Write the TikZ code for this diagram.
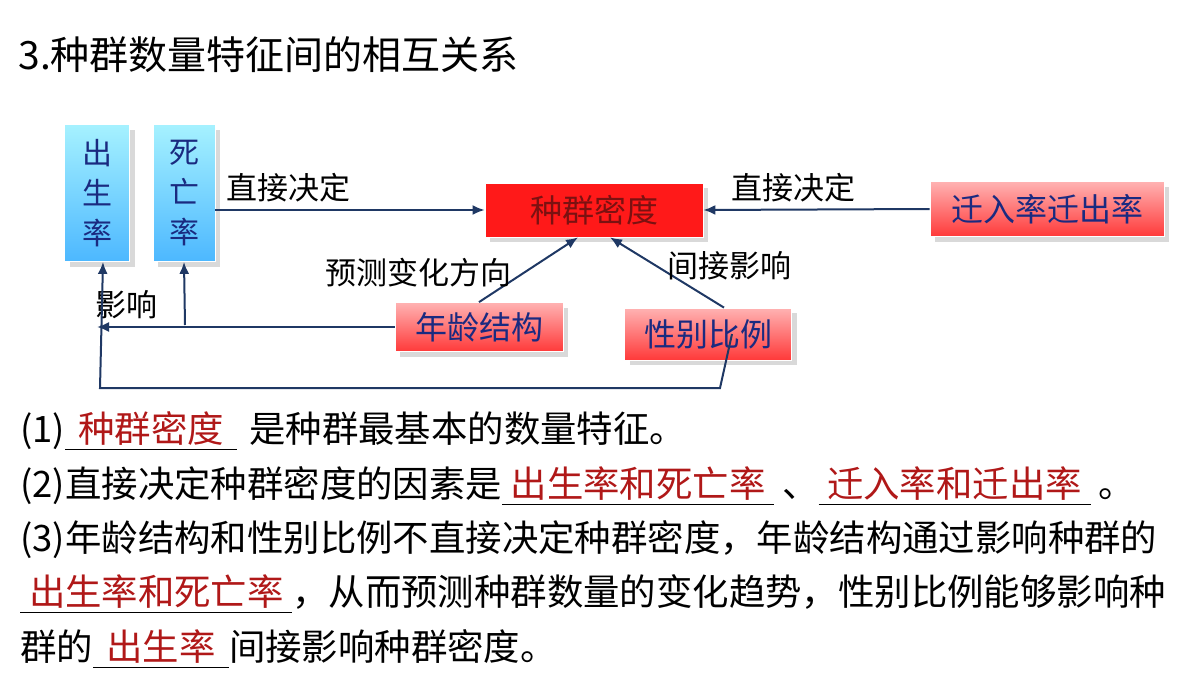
\documentclass[tikz,border=0pt]{standalone}
\usepackage{fontspec}
\setmainfont{Noto Sans CJK SC}
\usetikzlibrary{arrows.meta,positioning,shadows}
\definecolor{lineblue}{HTML}{1F3864}
\definecolor{textblue}{HTML}{1A2A80}
\definecolor{ansred}{HTML}{B01818}
\newcommand{\fillin}[2]{\rlap{\rule[-4pt]{#1}{0.6pt}}\makebox[#1]{\color{ansred}#2}}
\begin{document}
\begin{tikzpicture}[
    x=0.5pt, y=-0.5pt,
    bluebox/.style={draw=white, top color=blue!15!cyan!35, bottom color=cyan!60!blue!70, text=textblue,
        font=\fontsize{15}{20}\selectfont, align=center, inner sep=0, drop shadow={opacity=0.3}},
    pinkbox/.style={draw=white, top color=red!30, bottom color=red!70!pink, text=textblue,
        font=\fontsize{16}{18}\selectfont, inner sep=0, drop shadow={opacity=0.3}},
    conn/.style={draw=lineblue, line width=1pt, -{Latex[length=6pt,width=5pt]}},
    lbl/.style={font=\fontsize{15.5}{18}\selectfont, text=black},
    line/.style={anchor=base west, font=\fontsize{18.2}{20}\selectfont, inner sep=0}]
\useasboundingbox (0,0) rectangle (1200,675);
% title
\node[anchor=west, font=\fontsize{19.5}{22}\selectfont, inner sep=0] (title) at (18,55) {3.种群数量特征间的相互关系};
% diagram
\node[bluebox, minimum width=32.5, minimum height=68.5] (chusheng) at (97,193) {出\\生\\率};
\node[bluebox, minimum width=31, minimum height=68.5] (siwang) at (184,193) {死\\亡\\率};
\node[pinkbox, fill=red, top color=red!90, bottom color=red!90, text=ansred!70!black, minimum width=109, minimum height=27] (midu) at (594,210) {种群密度};
\node[pinkbox, minimum width=117, minimum height=27.5] (qianru) at (1047,209) {迁入率迁出率};
\node[pinkbox, minimum width=84, minimum height=24.5] (nianling) at (479,327) {年龄结构};
\node[pinkbox, minimum width=83.5, minimum height=26] (xingbie) at (708,334) {性别比例};
\coordinate (jn) at (185,325);
\coordinate (xd) at (720,388);
\coordinate (xb) at (100,388);
\draw[conn] (siwang.east |- midu.west) -- node[lbl, above, pos=0.27] {直接决定} (midu.west);
\draw[conn] (qianru.west) -- node[lbl, above, pos=0.6] {直接决定} (midu.east);
\draw[conn] ([xshift=0]nianling.north) -- node[lbl, left=2pt, pos=0.45] {预测变化方向} ([xshift=-8]midu.south);
\draw[conn] ([xshift=8]xingbie.north) -- node[lbl, right=2pt, pos=0.6] {间接影响} ([xshift=8]midu.south);
\draw[conn] (nianling.west) -- node[lbl, above, pos=0.9] {影响} (chusheng.south |- nianling.west);
\draw[conn] (jn) -- (siwang.south);
\draw[conn] ([xshift=12]xingbie.center) -- (xd) -- (xb) -- ([xshift=3]chusheng.south);
% text
\node[line] (l1) at (20,442) {(1)\fillin{86pt}{种群密度}\hspace{6pt}是种群最基本的数量特征。};
\node[line] (l2) at (20,497) {(2)直接决定种群密度的因素是\fillin{136pt}{出生率和死亡率}\ 、\fillin{136pt}{迁入率和迁出率}\ 。};
\node[line] (l3) at (20,551) {(3)年龄结构和性别比例不直接决定种群密度，年龄结构通过影响种群的};
\node[line] (l4) at (20,605) {\fillin{136pt}{出生率和死亡率}，从而预测种群数量的变化趋势，性别比例能够影响种};
\node[line] (l5) at (20,660) {群的\fillin{68pt}{出生率}间接影响种群密度。};
\end{tikzpicture}
\end{document}
